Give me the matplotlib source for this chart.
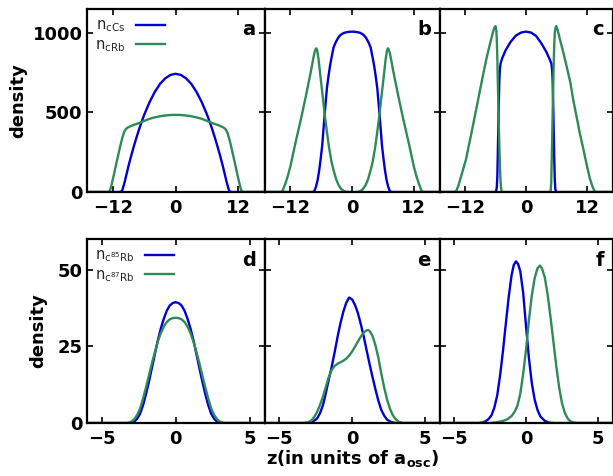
import matplotlib

matplotlib.use("Agg")
import matplotlib.pyplot as plt
import numpy as np

plt.rcParams["font.family"] = ["DejaVu Sans"]
plt.rcParams["mathtext.default"] = "regular"

BLUE = "#0000d2"
GREEN = "#2e8b57"
LEGEND_TEXT = "#262626"

# panel a: Cs / Rb condensate densities
A_CS = [(-17, 0), (-10.5, 0), (-10.2, 10), (-9.8, 55), (-9.4, 110), (-9.0, 165),
        (-8.5, 227), (-8.0, 286), (-7.5, 341), (-7.0, 393), (-6.5, 441), (-6.0, 486),
        (-5.0, 564), (-4.0, 628), (-3.0, 679), (-2.0, 714), (-1.0, 736), (0.0, 743),
        (1.0, 736), (2.0, 714), (3.0, 679), (4.0, 628), (5.0, 564), (6.0, 486),
        (6.5, 441), (7.0, 393), (7.5, 341), (8.0, 286), (8.5, 227), (9.0, 165),
        (9.4, 110), (9.8, 55), (10.2, 10), (10.5, 0), (17, 0)]
A_RB = [(-17, 0), (-12.9, 0), (-12.7, 2), (-12.5, 14), (-12.3, 38), (-12.0, 80),
        (-11.7, 124), (-11.4, 170), (-11.1, 214), (-10.8, 258), (-10.5, 300),
        (-10.2, 340), (-9.9, 372), (-9.6, 392), (-9.3, 402), (-9.0, 408), (-8.0, 422),
        (-7.0, 433), (-6.0, 447), (-5.0, 460), (-4.0, 469), (-3.0, 476), (-2.0, 481),
        (-1.0, 484), (0.0, 485), (1.0, 484), (2.0, 481), (3.0, 476), (4.0, 469),
        (5.0, 460), (6.0, 447), (7.0, 433), (8.0, 422), (9.0, 408), (9.3, 402),
        (9.6, 392), (9.9, 372), (10.2, 340), (10.5, 300), (10.8, 258), (11.1, 214),
        (11.4, 170), (11.7, 124), (12.0, 80), (12.3, 38), (12.5, 14), (12.7, 2),
        (12.9, 0), (17, 0)]

# panel b
B_CS = [(-17, 0), (-7.6, 0), (-7.3, 8), (-7.0, 35), (-6.7, 75), (-6.4, 135),
        (-6.1, 210), (-5.8, 295), (-5.5, 420), (-5.2, 539), (-4.9, 651), (-4.6, 725),
        (-4.3, 791), (-4.0, 844), (-3.6, 909), (-3.2, 940), (-2.8, 964), (-2.4, 982),
        (-2.0, 993), (-1.5, 1001), (-1.0, 1005), (-0.5, 1007), (0.0, 1008),
        (0.5, 1007), (1.0, 1005), (1.5, 1001), (2.0, 993), (2.4, 982), (2.8, 964),
        (3.2, 940), (3.6, 909), (4.0, 844), (4.3, 791), (4.6, 725), (4.9, 651),
        (5.2, 539), (5.5, 420), (5.8, 295), (6.1, 210), (6.4, 135), (6.7, 75),
        (7.0, 35), (7.3, 8), (7.6, 0), (17, 0)]
B_RB = [(-17, 0), (-13.8, 0), (-13.5, 8), (-13.0, 50), (-12.5, 100), (-12.0, 160),
        (-11.5, 235), (-11.0, 310), (-10.5, 380), (-10.0, 450), (-9.5, 525),
        (-9.0, 600), (-8.5, 680), (-8.0, 760), (-7.6, 830), (-7.3, 878), (-7.1, 898),
        (-6.95, 903), (-6.8, 892), (-6.5, 830), (-6.2, 740), (-6.0, 683), (-5.6, 570),
        (-5.3, 483), (-4.9, 380), (-4.5, 284), (-4.0, 190), (-3.6, 137), (-3.1, 80),
        (-2.6, 42), (-2.1, 18), (-1.6, 6), (-1.0, 1), (0.0, 0), (1.0, 1), (1.6, 6),
        (2.1, 18), (2.6, 42), (3.1, 80), (3.6, 137), (4.0, 190), (4.5, 284),
        (4.9, 380), (5.3, 483), (5.6, 570), (6.0, 683), (6.2, 740), (6.5, 830),
        (6.8, 892), (6.95, 903), (7.1, 898), (7.3, 878), (7.6, 830), (8.0, 760),
        (8.5, 680), (9.0, 600), (9.5, 525), (10.0, 450), (10.5, 380), (11.0, 310),
        (11.5, 235), (12.0, 160), (12.5, 100), (13.0, 50), (13.5, 8), (13.8, 0),
        (17, 0)]

# panel c
C_CS = [(-17, 0), (-5.9, 0), (-5.75, 30), (-5.65, 90), (-5.55, 240), (-5.45, 400),
        (-5.35, 555), (-5.25, 700), (-5.15, 770), (-5.0, 808), (-4.7, 840),
        (-4.0, 892), (-3.0, 945), (-2.0, 983), (-1.0, 1002), (0.0, 1008), (1.0, 1002),
        (2.0, 980), (3.0, 935), (4.0, 880), (4.7, 830), (5.0, 805), (5.15, 760),
        (5.25, 680), (5.35, 530), (5.45, 370), (5.55, 210), (5.65, 80), (5.75, 20),
        (5.9, 0), (17, 0)]
C_RB = [(-17, 0), (-14.0, 0), (-13.7, 8), (-13.3, 40), (-12.8, 95), (-12.3, 150),
        (-11.8, 205), (-11.3, 285), (-10.8, 360), (-10.3, 440), (-9.8, 520),
        (-9.3, 600), (-8.8, 680), (-8.3, 760), (-7.8, 835), (-7.3, 903), (-6.9, 955),
        (-6.5, 1005), (-6.2, 1035), (-6.0, 1042), (-5.85, 1020), (-5.75, 960),
        (-5.65, 850), (-5.55, 700), (-5.45, 560), (-5.35, 420), (-5.25, 290),
        (-5.15, 180), (-5.05, 95), (-4.95, 35), (-4.8, 5), (-4.6, 0), (4.7, 0),
        (4.85, 10), (4.95, 60), (5.05, 200), (5.15, 360), (5.25, 520), (5.35, 680),
        (5.45, 820), (5.55, 930), (5.65, 1000), (5.8, 1035), (5.95, 1043),
        (6.2, 1020), (6.7, 955), (7.3, 880), (8.0, 787), (8.7, 690), (9.3, 576),
        (10.0, 463), (10.6, 365), (11.3, 265), (11.9, 175), (12.5, 90), (13.0, 40),
        (13.4, 10), (13.7, 0), (17, 0)]

# panel d: 85Rb / 87Rb
D_85 = [(-6, 0), (-3.0, 0), (-2.8, 0.4), (-2.6, 1.4), (-2.4, 3.0), (-2.2, 5.8),
        (-2.0, 9.4), (-1.8, 13.5), (-1.6, 18.0), (-1.4, 22.5), (-1.2, 27.0),
        (-1.0, 30.8), (-0.8, 34.0), (-0.6, 36.6), (-0.4, 38.3), (-0.2, 39.1),
        (0.0, 39.4), (0.2, 39.1), (0.4, 38.3), (0.6, 36.6), (0.8, 34.0), (1.0, 30.8),
        (1.2, 27.0), (1.4, 22.5), (1.6, 18.0), (1.8, 13.5), (2.0, 9.4), (2.2, 5.8),
        (2.4, 3.0), (2.6, 1.4), (2.8, 0.4), (3.0, 0), (6, 0)]
D_87 = [(-6, 0), (-3.3, 0), (-3.0, 0.4), (-2.8, 1.2), (-2.6, 2.6), (-2.4, 4.7),
        (-2.2, 7.9), (-2.0, 11.6), (-1.8, 15.5), (-1.6, 19.5), (-1.4, 23.1),
        (-1.2, 26.6), (-1.0, 29.3), (-0.8, 31.4), (-0.6, 32.9), (-0.4, 33.8),
        (-0.2, 34.2), (0.0, 34.3), (0.2, 34.2), (0.4, 33.8), (0.6, 32.9), (0.8, 31.4),
        (1.0, 29.3), (1.2, 26.6), (1.4, 23.1), (1.6, 19.5), (1.8, 15.5), (2.0, 11.6),
        (2.2, 7.9), (2.4, 4.7), (2.6, 2.6), (2.8, 1.2), (3.0, 0.4), (3.3, 0), (6, 0)]

# panel e
E_85 = [(-6, 0), (-3.0, 0), (-2.7, 0.4), (-2.4, 1.5), (-2.2, 3.2), (-2.0, 5.8),
        (-1.8, 9.8), (-1.6, 14.2), (-1.4, 18.3), (-1.2, 23.0), (-1.0, 28.0),
        (-0.8, 32.5), (-0.6, 36.3), (-0.4, 39.2), (-0.2, 40.9), (0.0, 40.3),
        (0.2, 38.5), (0.4, 35.8), (0.6, 32.2), (0.8, 28.2), (1.0, 23.6), (1.2, 19.2),
        (1.4, 15.0), (1.6, 11.0), (1.8, 7.3), (2.0, 4.3), (2.2, 2.4), (2.4, 1.1),
        (2.7, 0.3), (3.0, 0), (6, 0)]
E_87 = [(-6, 0), (-3.3, 0), (-3.0, 0.3), (-2.8, 0.8), (-2.6, 2.0), (-2.4, 3.6),
        (-2.2, 5.9), (-2.0, 8.6), (-1.8, 11.8), (-1.6, 15.0), (-1.4, 17.3),
        (-1.2, 18.6), (-1.0, 19.3), (-0.8, 19.8), (-0.6, 20.3), (-0.4, 21.0),
        (-0.2, 22.0), (0.0, 23.3), (0.2, 24.9), (0.4, 26.6), (0.6, 28.2), (0.8, 29.5),
        (1.0, 30.2), (1.1, 30.3), (1.2, 30.0), (1.4, 28.4), (1.6, 25.4), (1.8, 21.3),
        (2.0, 16.2), (2.2, 11.6), (2.4, 7.6), (2.6, 4.6), (2.8, 2.5), (3.0, 1.2),
        (3.2, 0.4), (3.5, 0), (6, 0)]

# panel f
F_85 = [(-6, 0), (-3.3, 0), (-3.0, 0.2), (-2.8, 0.6), (-2.6, 1.3), (-2.4, 2.5),
        (-2.2, 5.0), (-2.0, 9.0), (-1.8, 15.5), (-1.6, 23.5), (-1.4, 32.5),
        (-1.2, 41.2), (-1.0, 48.3), (-0.85, 51.5), (-0.7, 52.7), (-0.55, 51.8),
        (-0.4, 49.5), (-0.2, 42.5), (0.0, 31.5), (0.2, 21.2), (0.4, 13.0), (0.6, 7.6),
        (0.8, 4.2), (1.0, 2.1), (1.3, 0.7), (1.6, 0.1), (2.0, 0), (6, 0)]
F_87 = [(-6, 0), (-2.5, 0), (-2.0, 0.3), (-1.6, 0.7), (-1.3, 1.2), (-1.0, 2.3),
        (-0.8, 3.6), (-0.6, 5.6), (-0.4, 9.5), (-0.2, 16.0), (0.0, 24.0), (0.2, 33.5),
        (0.4, 41.5), (0.6, 47.3), (0.8, 50.5), (0.96, 51.3), (1.1, 50.5), (1.3, 47.5),
        (1.5, 41.8), (1.7, 34.5), (1.9, 26.5), (2.1, 18.5), (2.3, 11.5), (2.5, 6.3),
        (2.7, 3.2), (2.9, 1.4), (3.1, 0.5), (3.4, 0.1), (3.6, 0), (6, 0)]

TOP_LABELS = [r"n$_{cCs}$", r"n$_{cRb}$"]
BOTTOM_LABELS = [r"n$_{c^{85}Rb}$", r"n$_{c^{87}Rb}$"]
TOP_XTICKS = [-12, 0, 12]
TOP_YTICKS = [0, 500, 1000]
BOTTOM_XTICKS = [-5, 0, 5]
BOTTOM_YTICKS = [0, 25, 50]


# Shared frame styling for every panel.
def styleAx(ax, xticks, yticks, showY):
    for spine in ax.spines.values():
        spine.set_linewidth(1.6)
        spine.set_color("black")
    ax.set_xticks(xticks)
    ax.set_yticks(yticks)
    ax.tick_params(direction="in", top=True, right=True, length=4, width=1.2,
                   labelsize=13, labelleft=showY)
    ax.tick_params(axis="x", pad=5)
    ax.tick_params(axis="y", pad=3)
    for label in ax.get_xticklabels() + ax.get_yticklabels():
        label.set_fontweight("bold")


# Draws the two density curves of one panel.
def plotPanel(ax, blueData, greenData, labels):
    bx, by = np.array(blueData).T
    gx, gy = np.array(greenData).T
    ax.plot(bx, by, color=BLUE, linewidth=1.7, label=labels[0])
    ax.plot(gx, gy, color=GREEN, linewidth=1.7, label=labels[1])


fig = plt.figure(figsize=(6.13, 4.76), dpi=100)
widths = [178, 175, 173]
topGrid = fig.add_gridspec(1, 3, left=0.1414, right=0.9992, bottom=0.5966,
                           top=0.981, wspace=0, width_ratios=widths)
botGrid = fig.add_gridspec(1, 3, left=0.1414, right=0.9992, bottom=0.1113,
                           top=0.498, wspace=0, width_ratios=widths)

topData = [(A_CS, A_RB, "a"), (B_CS, B_RB, "b"), (C_CS, C_RB, "c")]
botData = [(D_85, D_87, "d"), (E_85, E_87, "e"), (F_85, F_87, "f")]

topAxes = []
for i, (blue, green, letter) in enumerate(topData):
    ax = fig.add_subplot(topGrid[0, i])
    plotPanel(ax, blue, green, TOP_LABELS)
    ax.set_xlim(-17, 17)
    ax.set_ylim(0, 1150)
    styleAx(ax, TOP_XTICKS, TOP_YTICKS, i == 0)
    ax.text(0.95, 0.86, letter, transform=ax.transAxes, ha="right",
            va="baseline", fontsize=14, fontweight="bold")
    topAxes.append(ax)

botAxes = []
for i, (blue, green, letter) in enumerate(botData):
    ax = fig.add_subplot(botGrid[0, i])
    plotPanel(ax, blue, green, BOTTOM_LABELS)
    ax.set_xlim(-6, 6)
    ax.set_ylim(0, 60)
    styleAx(ax, BOTTOM_XTICKS, BOTTOM_YTICKS, i == 0)
    ax.text(0.95, 0.853, letter, transform=ax.transAxes, ha="right",
            va="baseline", fontsize=14, fontweight="bold")
    botAxes.append(ax)

topAxes[0].set_ylabel("density", fontsize=13, fontweight="bold")
topAxes[0].yaxis.set_label_coords(-0.335, 0.5)
botAxes[0].set_ylabel("density", fontsize=13, fontweight="bold")
botAxes[0].yaxis.set_label_coords(-0.223, 0.5)
botAxes[1].set_xlabel(r"z(in units of a$_{osc}$)", fontsize=13,
                      fontweight="bold", labelpad=0)

for ax in [topAxes[0], botAxes[0]]:
    leg = ax.legend(loc="upper left", frameon=False, markerfirst=False,
                    prop={"size": 10.5, "weight": "normal"}, handlelength=2.0,
                    handletextpad=0.7, labelspacing=0.2, borderaxespad=0.25,
                    borderpad=0.35)
    for text in leg.get_texts():
        text.set_color(LEGEND_TEXT)

plt.savefig("out.png", dpi=100)
plt.close(fig)
